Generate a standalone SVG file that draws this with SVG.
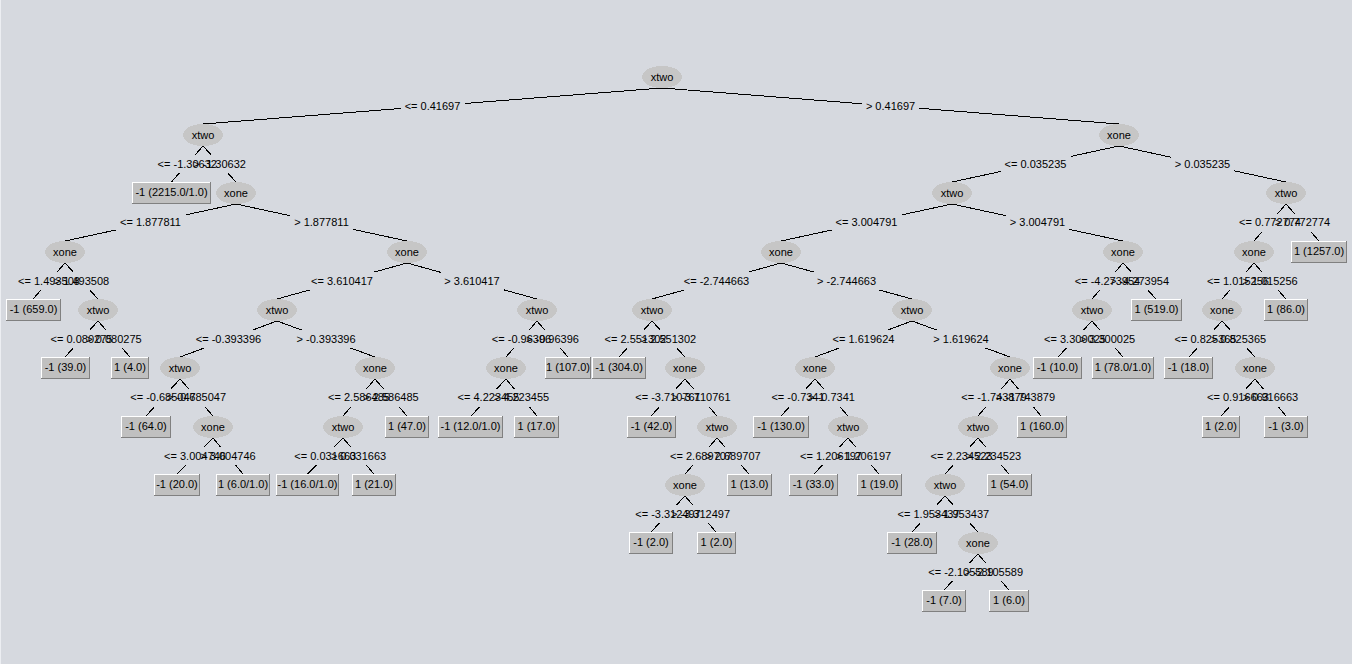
<svg xmlns="http://www.w3.org/2000/svg" width="1352" height="664" viewBox="0 0 1352 664">
<style>
  .edge path { stroke: #000; stroke-width: 1; fill: none; shape-rendering: crispEdges; }
  .lbox rect { fill: #d6d9df; shape-rendering: crispEdges; }
  text { font-family: "Liberation Sans", Arial, sans-serif; font-size: 11px; fill: #000; text-anchor: middle; }
  .node ellipse { fill: #c6c6c6; shape-rendering: crispEdges; }
  .leaf rect { fill: #c0c0c0; stroke: #808080; stroke-width: 1; shape-rendering: crispEdges; }
  .leaf path { stroke: #fff; stroke-width: 1; fill: none; shape-rendering: crispEdges; }
</style>
<rect x="0" y="0" width="1352" height="664" fill="#d6d9df"/>
<rect x="0" y="0" width="1" height="664" fill="#eceef2"/>

<g id="connectors">
  <g class="edge">
    <path d="M662 88L203 124"/><path d="M662 88L1119 124"/>
    <path d="M203 146L171.5 182"/><path d="M203 146L236 182"/>
    <path d="M1119 146L952 182"/><path d="M1119 146L1286 182"/>
    <path d="M236 204L65 241"/><path d="M236 204L407 241"/>
    <path d="M952 204L781 241"/><path d="M952 204L1123 241"/>
    <path d="M1286 204L1254 241"/><path d="M1286 204L1319 241"/>
    <path d="M65 263L33 299"/><path d="M65 263L98 299"/>
    <path d="M407 263L277 299"/><path d="M407 263L537 299"/>
    <path d="M781 263L652 299"/><path d="M781 263L912 299"/>
    <path d="M1123 263L1092 299"/><path d="M1123 263L1156 299"/>
    <path d="M1254 263L1222 299"/><path d="M1254 263L1286 299"/>
    <path d="M98 321L65 357"/><path d="M98 321L130 357"/>
    <path d="M277 321L180 357"/><path d="M277 321L375 357"/>
    <path d="M537 321L506 357"/><path d="M537 321L568 357"/>
    <path d="M652 321L619 357"/><path d="M652 321L685 357"/>
    <path d="M912 321L815 357"/><path d="M912 321L1010 357"/>
    <path d="M1092 321L1058 357"/><path d="M1092 321L1123 357"/>
    <path d="M1222 321L1189 357"/><path d="M1222 321L1255 357"/>
    <path d="M180 379L146 416"/><path d="M180 379L213 416"/>
    <path d="M375 379L343 416"/><path d="M375 379L407 416"/>
    <path d="M506 379L471 416"/><path d="M506 379L537 416"/>
    <path d="M685 379L651 416"/><path d="M685 379L717 416"/>
    <path d="M815 379L781 416"/><path d="M815 379L848 416"/>
    <path d="M1010 379L978 416"/><path d="M1010 379L1041 416"/>
    <path d="M1255 379L1221 416"/><path d="M1255 379L1286 416"/>
    <path d="M213 438L177 474"/><path d="M213 438L243 474"/>
    <path d="M343 438L307.5 474"/><path d="M343 438L374 474"/>
    <path d="M717 438L685 474"/><path d="M717 438L749 474"/>
    <path d="M848 438L814 474"/><path d="M848 438L879 474"/>
    <path d="M978 438L945 474"/><path d="M978 438L1009 474"/>
    <path d="M685 496L651 532"/><path d="M685 496L716 532"/>
    <path d="M945 496L912 532"/><path d="M945 496L978 532"/>
    <path d="M978 554L944 590"/><path d="M978 554L1009 590"/>
  </g>
  <!-- label backgrounds break the lines behind each split condition -->
  <g class="lbox">
    <rect x="400.5" y="97" width="64" height="18"/><rect x="862" y="97" width="57" height="18"/>
    <rect x="153.75" y="155" width="67" height="18"/><rect x="189" y="155" width="61" height="18"/>
    <rect x="1000.5" y="155" width="70" height="18"/><rect x="1171" y="155" width="63" height="18"/>
    <rect x="115.5" y="213.5" width="70" height="18"/><rect x="290" y="213.5" width="63" height="18"/>
    <rect x="831.5" y="213.5" width="70" height="18"/><rect x="1006" y="213.5" width="63" height="18"/>
    <rect x="1235" y="213.5" width="70" height="18"/><rect x="1271" y="213.5" width="63" height="18"/>
    <rect x="14" y="272" width="70" height="18"/><rect x="50" y="272" width="63" height="18"/>
    <rect x="307" y="272" width="70" height="18"/><rect x="440.5" y="272" width="63" height="18"/>
    <rect x="679.5" y="272" width="74" height="18"/><rect x="813" y="272" width="67" height="18"/>
    <rect x="1070.5" y="272" width="74" height="18"/><rect x="1106" y="272" width="67" height="18"/>
    <rect x="1203" y="272" width="70" height="18"/><rect x="1238.5" y="272" width="63" height="18"/>
    <rect x="46.5" y="330" width="70" height="18"/><rect x="82.5" y="330" width="63" height="18"/>
    <rect x="191.5" y="330" width="74" height="18"/><rect x="292.5" y="330" width="67" height="18"/>
    <rect x="488" y="330" width="67" height="18"/><rect x="522" y="330" width="61" height="18"/>
    <rect x="600.5" y="330" width="70" height="18"/><rect x="637" y="330" width="63" height="18"/>
    <rect x="828.5" y="330" width="70" height="18"/><rect x="929.5" y="330" width="63" height="18"/>
    <rect x="1040" y="330" width="70" height="18"/><rect x="1076" y="330" width="63" height="18"/>
    <rect x="1170.5" y="330" width="70" height="18"/><rect x="1207" y="330" width="63" height="18"/>
    <rect x="126" y="388.5" width="74" height="18"/><rect x="163" y="388.5" width="67" height="18"/>
    <rect x="324" y="388.5" width="70" height="18"/><rect x="359.5" y="388.5" width="63" height="18"/>
    <rect x="453.5" y="388.5" width="70" height="18"/><rect x="490" y="388.5" width="63" height="18"/>
    <rect x="631" y="388.5" width="74" height="18"/><rect x="667.5" y="388.5" width="67" height="18"/>
    <rect x="767.5" y="388.5" width="61" height="18"/><rect x="804" y="388.5" width="55" height="18"/>
    <rect x="957" y="388.5" width="74" height="18"/><rect x="992" y="388.5" width="67" height="18"/>
    <rect x="1203" y="388.5" width="70" height="18"/><rect x="1239" y="388.5" width="63" height="18"/>
    <rect x="160" y="447" width="70" height="18"/><rect x="196.5" y="447" width="63" height="18"/>
    <rect x="290.25" y="447" width="70" height="18"/><rect x="327" y="447" width="63" height="18"/>
    <rect x="666" y="447" width="70" height="18"/><rect x="701.5" y="447" width="63" height="18"/>
    <rect x="796" y="447" width="70" height="18"/><rect x="832" y="447" width="63" height="18"/>
    <rect x="926.5" y="447" width="70" height="18"/><rect x="962" y="447" width="63" height="18"/>
    <rect x="631" y="505" width="74" height="18"/><rect x="667" y="505" width="67" height="18"/>
    <rect x="893.5" y="505" width="70" height="18"/><rect x="930" y="505" width="63" height="18"/>
    <rect x="924" y="563" width="74" height="18"/><rect x="960" y="563" width="67" height="18"/>
  </g>
  <g class="ltext">
    <text x="432.5" y="109.5">&lt;= 0.41697</text><text x="890.5" y="109.5">&gt; 0.41697</text>
    <text x="187.25" y="167.5">&lt;= -1.30632</text><text x="219.5" y="167.5">&gt; -1.30632</text>
    <text x="1035.5" y="167.5">&lt;= 0.035235</text><text x="1202.5" y="167.5">&gt; 0.035235</text>
    <text x="150.5" y="226">&lt;= 1.877811</text><text x="321.5" y="226">&gt; 1.877811</text>
    <text x="866.5" y="226">&lt;= 3.004791</text><text x="1037.5" y="226">&gt; 3.004791</text>
    <text x="1270" y="226">&lt;= 0.772774</text><text x="1302.5" y="226">&gt; 0.772774</text>
    <text x="49" y="284.5">&lt;= 1.493508</text><text x="81.5" y="284.5">&gt; 1.493508</text>
    <text x="342" y="284.5">&lt;= 3.610417</text><text x="472" y="284.5">&gt; 3.610417</text>
    <text x="716.5" y="284.5">&lt;= -2.744663</text><text x="846.5" y="284.5">&gt; -2.744663</text>
    <text x="1107.5" y="284.5">&lt;= -4.273954</text><text x="1139.5" y="284.5">&gt; -4.273954</text>
    <text x="1238" y="284.5">&lt;= 1.015256</text><text x="1270" y="284.5">&gt; 1.015256</text>
    <text x="81.5" y="342.5">&lt;= 0.080275</text><text x="114" y="342.5">&gt; 0.080275</text>
    <text x="228.5" y="342.5">&lt;= -0.393396</text><text x="326" y="342.5">&gt; -0.393396</text>
    <text x="521.5" y="342.5">&lt;= -0.96396</text><text x="552.5" y="342.5">&gt; -0.96396</text>
    <text x="635.5" y="342.5">&lt;= 2.551302</text><text x="668.5" y="342.5">&gt; 2.551302</text>
    <text x="863.5" y="342.5">&lt;= 1.619624</text><text x="961" y="342.5">&gt; 1.619624</text>
    <text x="1075" y="342.5">&lt;= 3.300025</text><text x="1107.5" y="342.5">&gt; 3.300025</text>
    <text x="1205.5" y="342.5">&lt;= 0.825365</text><text x="1238.5" y="342.5">&gt; 0.825365</text>
    <text x="163" y="401">&lt;= -0.685047</text><text x="196.5" y="401">&gt; -0.685047</text>
    <text x="359" y="401">&lt;= 2.586485</text><text x="391" y="401">&gt; 2.586485</text>
    <text x="488.5" y="401">&lt;= 4.223455</text><text x="521.5" y="401">&gt; 4.223455</text>
    <text x="668" y="401">&lt;= -3.710761</text><text x="701" y="401">&gt; -3.710761</text>
    <text x="798" y="401">&lt;= -0.7341</text><text x="831.5" y="401">&gt; -0.7341</text>
    <text x="994" y="401">&lt;= -1.743879</text><text x="1025.5" y="401">&gt; -1.743879</text>
    <text x="1238" y="401">&lt;= 0.916663</text><text x="1270.5" y="401">&gt; 0.916663</text>
    <text x="195" y="459.5">&lt;= 3.004746</text><text x="228" y="459.5">&gt; 3.004746</text>
    <text x="325.25" y="459.5">&lt;= 0.031663</text><text x="358.5" y="459.5">&gt; 0.031663</text>
    <text x="701" y="459.5">&lt;= 2.689707</text><text x="733" y="459.5">&gt; 2.689707</text>
    <text x="831" y="459.5">&lt;= 1.206197</text><text x="863.5" y="459.5">&gt; 1.206197</text>
    <text x="961.5" y="459.5">&lt;= 2.234523</text><text x="993.5" y="459.5">&gt; 2.234523</text>
    <text x="668" y="517.5">&lt;= -3.312497</text><text x="700.5" y="517.5">&gt; -3.312497</text>
    <text x="928.5" y="517.5">&lt;= 1.953437</text><text x="961.5" y="517.5">&gt; 1.953437</text>
    <text x="961" y="575.5">&lt;= -2.105589</text><text x="993.5" y="575.5">&gt; -2.105589</text>
  </g>
</g>

<!-- split nodes -->
<g id="n0" class="node"><ellipse cx="662" cy="77" rx="20" ry="11"/><text x="662" y="81">xtwo</text></g>
<g id="n1" class="node"><ellipse cx="203" cy="135" rx="20" ry="11"/><text x="203" y="139">xtwo</text></g>
<g id="n2" class="node"><ellipse cx="1119" cy="135" rx="20" ry="11"/><text x="1119" y="139">xone</text></g>
<g id="n3" class="node"><ellipse cx="236" cy="193" rx="20" ry="11"/><text x="236" y="197">xone</text></g>
<g id="n4" class="node"><ellipse cx="952" cy="193" rx="20" ry="11"/><text x="952" y="197">xtwo</text></g>
<g id="n5" class="node"><ellipse cx="1286" cy="193" rx="20" ry="11"/><text x="1286" y="197">xtwo</text></g>
<g id="n6" class="node"><ellipse cx="65" cy="252" rx="20" ry="11"/><text x="65" y="256">xone</text></g>
<g id="n7" class="node"><ellipse cx="407" cy="252" rx="20" ry="11"/><text x="407" y="256">xone</text></g>
<g id="n8" class="node"><ellipse cx="781" cy="252" rx="20" ry="11"/><text x="781" y="256">xone</text></g>
<g id="n9" class="node"><ellipse cx="1123" cy="252" rx="20" ry="11"/><text x="1123" y="256">xone</text></g>
<g id="n10" class="node"><ellipse cx="1254" cy="252" rx="20" ry="11"/><text x="1254" y="256">xone</text></g>
<g id="n11" class="node"><ellipse cx="98" cy="310" rx="20" ry="11"/><text x="98" y="314">xtwo</text></g>
<g id="n12" class="node"><ellipse cx="277" cy="310" rx="20" ry="11"/><text x="277" y="314">xtwo</text></g>
<g id="n13" class="node"><ellipse cx="537" cy="310" rx="20" ry="11"/><text x="537" y="314">xtwo</text></g>
<g id="n14" class="node"><ellipse cx="652" cy="310" rx="20" ry="11"/><text x="652" y="314">xtwo</text></g>
<g id="n15" class="node"><ellipse cx="912" cy="310" rx="20" ry="11"/><text x="912" y="314">xtwo</text></g>
<g id="n16" class="node"><ellipse cx="1092" cy="310" rx="20" ry="11"/><text x="1092" y="314">xtwo</text></g>
<g id="n17" class="node"><ellipse cx="1222" cy="310" rx="20" ry="11"/><text x="1222" y="314">xone</text></g>
<g id="n18" class="node"><ellipse cx="180" cy="368" rx="20" ry="11"/><text x="180" y="372">xtwo</text></g>
<g id="n19" class="node"><ellipse cx="375" cy="368" rx="20" ry="11"/><text x="375" y="372">xone</text></g>
<g id="n20" class="node"><ellipse cx="506" cy="368" rx="20" ry="11"/><text x="506" y="372">xone</text></g>
<g id="n21" class="node"><ellipse cx="685" cy="368" rx="20" ry="11"/><text x="685" y="372">xone</text></g>
<g id="n22" class="node"><ellipse cx="815" cy="368" rx="20" ry="11"/><text x="815" y="372">xone</text></g>
<g id="n23" class="node"><ellipse cx="1010" cy="368" rx="20" ry="11"/><text x="1010" y="372">xone</text></g>
<g id="n24" class="node"><ellipse cx="1255" cy="368" rx="20" ry="11"/><text x="1255" y="372">xone</text></g>
<g id="n25" class="node"><ellipse cx="213" cy="427" rx="20" ry="11"/><text x="213" y="431">xone</text></g>
<g id="n26" class="node"><ellipse cx="343" cy="427" rx="20" ry="11"/><text x="343" y="431">xtwo</text></g>
<g id="n27" class="node"><ellipse cx="717" cy="427" rx="20" ry="11"/><text x="717" y="431">xtwo</text></g>
<g id="n28" class="node"><ellipse cx="848" cy="427" rx="20" ry="11"/><text x="848" y="431">xtwo</text></g>
<g id="n29" class="node"><ellipse cx="978" cy="427" rx="20" ry="11"/><text x="978" y="431">xtwo</text></g>
<g id="n30" class="node"><ellipse cx="685" cy="485" rx="20" ry="11"/><text x="685" y="489">xone</text></g>
<g id="n31" class="node"><ellipse cx="945" cy="485" rx="20" ry="11"/><text x="945" y="489">xtwo</text></g>
<g id="n32" class="node"><ellipse cx="978" cy="543" rx="20" ry="11"/><text x="978" y="547">xone</text></g>

<!-- leaf nodes: raised boxes -->
<g id="leaf1" class="leaf"><rect x="132.5" y="182.5" width="78" height="21"/><path d="M132.5 203V182.5H210"/><text x="171.5" y="196">-1 (2215.0/1.0)</text></g>
<g id="leaf2" class="leaf"><rect x="1291.5" y="241.5" width="55" height="21"/><path d="M1291.5 262V241.5H1346"/><text x="1319" y="255">1 (1257.0)</text></g>
<g id="leaf3" class="leaf"><rect x="6.5" y="299.5" width="54" height="21"/><path d="M6.5 320V299.5H60"/><text x="33.5" y="313">-1 (659.0)</text></g>
<g id="leaf4" class="leaf"><rect x="1131.5" y="299.5" width="50" height="21"/><path d="M1131.5 320V299.5H1181"/><text x="1156.5" y="313">1 (519.0)</text></g>
<g id="leaf5" class="leaf"><rect x="1264.5" y="299.5" width="43" height="21"/><path d="M1264.5 320V299.5H1307"/><text x="1286" y="313">1 (86.0)</text></g>
<g id="leaf6" class="leaf"><rect x="41.5" y="357.5" width="48" height="21"/><path d="M41.5 378V357.5H89"/><text x="65.5" y="371">-1 (39.0)</text></g>
<g id="leaf7" class="leaf"><rect x="111.5" y="357.5" width="37" height="21"/><path d="M111.5 378V357.5H148"/><text x="130" y="371">1 (4.0)</text></g>
<g id="leaf8" class="leaf"><rect x="545.5" y="357.5" width="45" height="21"/><path d="M545.5 378V357.5H590"/><text x="568" y="371">1 (107.0)</text></g>
<g id="leaf9" class="leaf"><rect x="592.5" y="357.5" width="53" height="21"/><path d="M592.5 378V357.5H645"/><text x="619" y="371">-1 (304.0)</text></g>
<g id="leaf10" class="leaf"><rect x="1033.5" y="357.5" width="48" height="21"/><path d="M1033.5 378V357.5H1081"/><text x="1057.5" y="371">-1 (10.0)</text></g>
<g id="leaf11" class="leaf"><rect x="1092.5" y="357.5" width="61" height="21"/><path d="M1092.5 378V357.5H1153"/><text x="1123" y="371">1 (78.0/1.0)</text></g>
<g id="leaf12" class="leaf"><rect x="1164.5" y="357.5" width="48" height="21"/><path d="M1164.5 378V357.5H1212"/><text x="1188.5" y="371">-1 (18.0)</text></g>
<g id="leaf13" class="leaf"><rect x="121.5" y="416.5" width="49" height="21"/><path d="M121.5 437V416.5H170"/><text x="146" y="430">-1 (64.0)</text></g>
<g id="leaf14" class="leaf"><rect x="385.5" y="416.5" width="43" height="21"/><path d="M385.5 437V416.5H428"/><text x="407" y="430">1 (47.0)</text></g>
<g id="leaf15" class="leaf"><rect x="438.5" y="416.5" width="64" height="21"/><path d="M438.5 437V416.5H502"/><text x="470.5" y="430">-1 (12.0/1.0)</text></g>
<g id="leaf16" class="leaf"><rect x="514.5" y="416.5" width="44" height="21"/><path d="M514.5 437V416.5H558"/><text x="536.5" y="430">1 (17.0)</text></g>
<g id="leaf17" class="leaf"><rect x="627.5" y="416.5" width="48" height="21"/><path d="M627.5 437V416.5H675"/><text x="651.5" y="430">-1 (42.0)</text></g>
<g id="leaf18" class="leaf"><rect x="753.5" y="416.5" width="55" height="21"/><path d="M753.5 437V416.5H808"/><text x="781" y="430">-1 (130.0)</text></g>
<g id="leaf19" class="leaf"><rect x="1017.5" y="416.5" width="49" height="21"/><path d="M1017.5 437V416.5H1066"/><text x="1042" y="430">1 (160.0)</text></g>
<g id="leaf20" class="leaf"><rect x="1202.5" y="416.5" width="37" height="21"/><path d="M1202.5 437V416.5H1239"/><text x="1221" y="430">1 (2.0)</text></g>
<g id="leaf21" class="leaf"><rect x="1264.5" y="416.5" width="43" height="21"/><path d="M1264.5 437V416.5H1307"/><text x="1286" y="430">-1 (3.0)</text></g>
<g id="leaf22" class="leaf"><rect x="154.5" y="474.5" width="45" height="21"/><path d="M154.5 495V474.5H199"/><text x="177" y="488">-1 (20.0)</text></g>
<g id="leaf23" class="leaf"><rect x="216.5" y="474.5" width="53" height="21"/><path d="M216.5 495V474.5H269"/><text x="243" y="488">1 (6.0/1.0)</text></g>
<g id="leaf24" class="leaf"><rect x="276.5" y="474.5" width="62" height="21"/><path d="M276.5 495V474.5H338"/><text x="307.5" y="488">-1 (16.0/1.0)</text></g>
<g id="leaf25" class="leaf"><rect x="352.5" y="474.5" width="43" height="21"/><path d="M352.5 495V474.5H395"/><text x="374" y="488">1 (21.0)</text></g>
<g id="leaf26" class="leaf"><rect x="727.5" y="474.5" width="44" height="21"/><path d="M727.5 495V474.5H771"/><text x="749.5" y="488">1 (13.0)</text></g>
<g id="leaf27" class="leaf"><rect x="789.5" y="474.5" width="48" height="21"/><path d="M789.5 495V474.5H837"/><text x="813.5" y="488">-1 (33.0)</text></g>
<g id="leaf28" class="leaf"><rect x="857.5" y="474.5" width="44" height="21"/><path d="M857.5 495V474.5H901"/><text x="879.5" y="488">1 (19.0)</text></g>
<g id="leaf29" class="leaf"><rect x="987.5" y="474.5" width="44" height="21"/><path d="M987.5 495V474.5H1031"/><text x="1009.5" y="488">1 (54.0)</text></g>
<g id="leaf30" class="leaf"><rect x="629.5" y="532.5" width="43" height="21"/><path d="M629.5 553V532.5H672"/><text x="651" y="546">-1 (2.0)</text></g>
<g id="leaf31" class="leaf"><rect x="697.5" y="532.5" width="38" height="21"/><path d="M697.5 553V532.5H735"/><text x="716.5" y="546">1 (2.0)</text></g>
<g id="leaf32" class="leaf"><rect x="887.5" y="532.5" width="49" height="21"/><path d="M887.5 553V532.5H936"/><text x="912" y="546">-1 (28.0)</text></g>
<g id="leaf33" class="leaf"><rect x="922.5" y="590.5" width="43" height="21"/><path d="M922.5 611V590.5H965"/><text x="944" y="604">-1 (7.0)</text></g>
<g id="leaf34" class="leaf"><rect x="989.5" y="590.5" width="39" height="21"/><path d="M989.5 611V590.5H1028"/><text x="1009" y="604">1 (6.0)</text></g>
</svg>
